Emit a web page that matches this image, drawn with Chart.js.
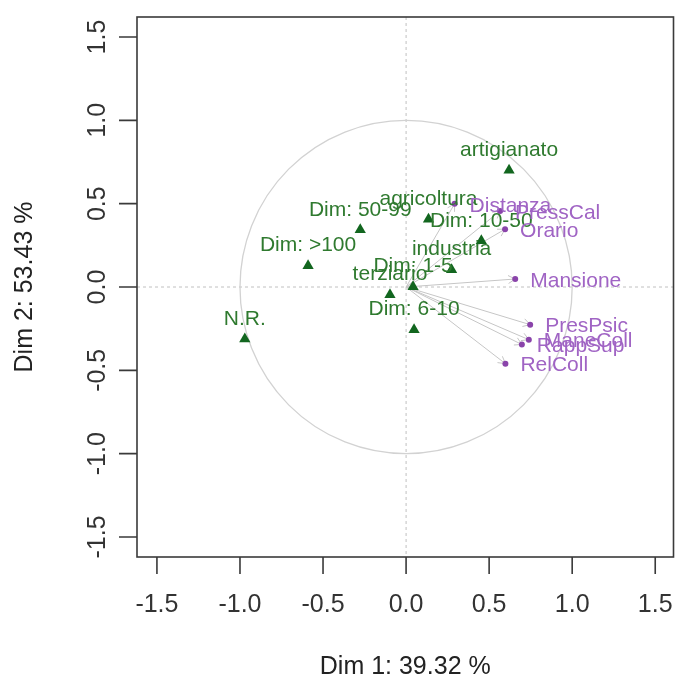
<!DOCTYPE html>
<html>
<head>
<meta charset="utf-8">
<script src="https://cdn.jsdelivr.net/npm/chart.js@4.4.1/dist/chart.umd.min.js"></script>
<style>
  html, body { margin: 0; padding: 0; background: #fff; }
</style>
</head>
<body>
<canvas id="chart" width="680" height="681"></canvas>
<script>
// Supplementary categories (green triangles)
const catLabels = ['artigianato', 'agricoltura', 'Dim: 50-99', 'Dim: >100', 'Dim: 10-50',
                   'industria', 'Dim: 1-5', 'terziario', 'Dim: 6-10', 'N.R.'];
const catX = [0.62, 0.135, -0.276, -0.59, 0.453, 0.274, 0.042, -0.097, 0.048, -0.971];
const catY = [0.70, 0.407, 0.343, 0.128, 0.277, 0.104, 0.002, -0.046, -0.256, -0.312];

// Variables (purple points with arrows)
const varLabels = ['Distanza', 'PressCal', 'Orario', 'Mansione', 'PresPsic', 'ManeColl', 'RappSup', 'RelColl'];
const varX = [0.292, 0.566, 0.596, 0.657, 0.747, 0.739, 0.697, 0.598];
const varY = [0.499, 0.456, 0.347, 0.048, -0.226, -0.316, -0.345, -0.46];

// Axes
const xTicks = [-1.5, -1.0, -0.5, 0.0, 0.5, 1.0, 1.5];
const yTicks = [-1.5, -1.0, -0.5, 0.0, 0.5, 1.0, 1.5];
const xTitle = 'Dim 1: 39.32 %';
const yTitle = 'Dim 2: 53.43 %';

const FONT = '"Liberation Sans", Arial, sans-serif';
const GREEN_TXT = '#2f7a2f';
const GREEN_PT = '#12661f';
const PURPLE_TXT = '#a064c4';
const PURPLE_PT = '#8a44aa';

const toPoints = (xs, ys) => xs.map((x, i) => ({ x, y: ys[i] }));

const biplotDecor = {
    id: 'biplotDecor',
    beforeDatasetsDraw(chart) {
        const { ctx, chartArea: a, scales: { x, y } } = chart;
        const x0 = x.getPixelForValue(0);
        const y0 = y.getPixelForValue(0);
        ctx.save();

        // dashed zero lines
        ctx.strokeStyle = '#c0c0c0';
        ctx.lineWidth = 1;
        ctx.setLineDash([3, 3]);
        ctx.beginPath();
        ctx.moveTo(x0, a.top); ctx.lineTo(x0, a.bottom);
        ctx.moveTo(a.left, y0); ctx.lineTo(a.right, y0);
        ctx.stroke();
        ctx.setLineDash([]);

        // unit circle
        const rx = x.getPixelForValue(1) - x0;
        const ry = y0 - y.getPixelForValue(1);
        ctx.strokeStyle = '#d2d2d2';
        ctx.lineWidth = 1.3;
        ctx.beginPath();
        ctx.ellipse(x0, y0, rx, ry, 0, 0, Math.PI * 2);
        ctx.stroke();

        // arrows to the variables
        ctx.strokeStyle = '#c6c6c6';
        ctx.lineWidth = 1;
        varX.forEach((vx, i) => {
            const px = x.getPixelForValue(vx);
            const py = y.getPixelForValue(varY[i]);
            const ang = Math.atan2(py - y0, px - x0);
            ctx.beginPath();
            ctx.moveTo(x0, y0);
            ctx.lineTo(px, py);
            ctx.moveTo(px - 8 * Math.cos(ang - Math.PI / 6), py - 8 * Math.sin(ang - Math.PI / 6));
            ctx.lineTo(px, py);
            ctx.lineTo(px - 8 * Math.cos(ang + Math.PI / 6), py - 8 * Math.sin(ang + Math.PI / 6));
            ctx.stroke();
        });
        ctx.restore();
    },
    afterDatasetsDraw(chart) {
        const { ctx, scales: { x, y } } = chart;
        ctx.save();
        ctx.font = '21px ' + FONT;
        ctx.textBaseline = 'middle';

        // category labels above the triangles
        ctx.fillStyle = GREEN_TXT;
        ctx.textAlign = 'center';
        catLabels.forEach((lab, i) => {
            ctx.fillText(lab, x.getPixelForValue(catX[i]), y.getPixelForValue(catY[i]) - 20);
        });

        // variable labels right of the points
        ctx.fillStyle = PURPLE_TXT;
        ctx.textAlign = 'left';
        varLabels.forEach((lab, i) => {
            ctx.fillText(lab, x.getPixelForValue(varX[i]) + 15, y.getPixelForValue(varY[i]) + 2);
        });
        ctx.restore();
    },
    afterDraw(chart) {
        const { ctx, chartArea: a, scales: { x, y } } = chart;
        ctx.save();

        // frame
        ctx.strokeStyle = '#3a3a3a';
        ctx.lineWidth = 1.6;
        ctx.strokeRect(a.left, a.top, a.right - a.left, a.bottom - a.top);

        // tick marks
        ctx.beginPath();
        xTicks.forEach(v => {
            const px = x.getPixelForValue(v);
            ctx.moveTo(px, a.bottom); ctx.lineTo(px, a.bottom + 17);
        });
        yTicks.forEach(v => {
            const py = y.getPixelForValue(v);
            ctx.moveTo(a.left - 18, py); ctx.lineTo(a.left, py);
        });
        ctx.stroke();

        // tick labels
        ctx.fillStyle = '#333';
        ctx.font = '25px ' + FONT;
        ctx.textAlign = 'center';
        ctx.textBaseline = 'middle';
        xTicks.forEach(v => {
            ctx.fillText(v.toFixed(1), x.getPixelForValue(v), 605);
        });
        yTicks.forEach(v => {
            ctx.save();
            ctx.translate(98, y.getPixelForValue(v));
            ctx.rotate(-Math.PI / 2);
            ctx.fillText(v.toFixed(1), 0, 0);
            ctx.restore();
        });

        // axis titles
        ctx.fillStyle = '#222';
        ctx.fillText(xTitle, (a.left + a.right) / 2, 667);
        ctx.save();
        ctx.translate(25, (a.top + a.bottom) / 2);
        ctx.rotate(-Math.PI / 2);
        ctx.fillText(yTitle, 0, 0);
        ctx.restore();
        ctx.restore();
    }
};

new Chart(document.getElementById('chart'), {
    type: 'scatter',
    data: {
        datasets: [
            {
                label: 'variabili',
                data: toPoints(varX, varY),
                pointStyle: 'circle',
                pointRadius: 3,
                backgroundColor: PURPLE_PT,
                borderColor: PURPLE_PT,
                borderWidth: 0
            },
            {
                label: 'categorie',
                data: toPoints(catX, catY),
                pointStyle: 'triangle',
                pointRadius: 6.5,
                backgroundColor: GREEN_PT,
                borderColor: GREEN_PT,
                borderWidth: 0
            }
        ]
    },
    options: {
        responsive: false,
        animation: false,
        layout: { padding: { left: 137, right: 1, top: 17, bottom: 124 } },
        scales: {
            x: { type: 'linear', min: -1.62, max: 1.61, display: false },
            y: { type: 'linear', min: -1.62, max: 1.62, display: false }
        },
        plugins: {
            legend: { display: false },
            tooltip: { enabled: false }
        }
    },
    plugins: [biplotDecor]
});
</script>
</body>
</html>
